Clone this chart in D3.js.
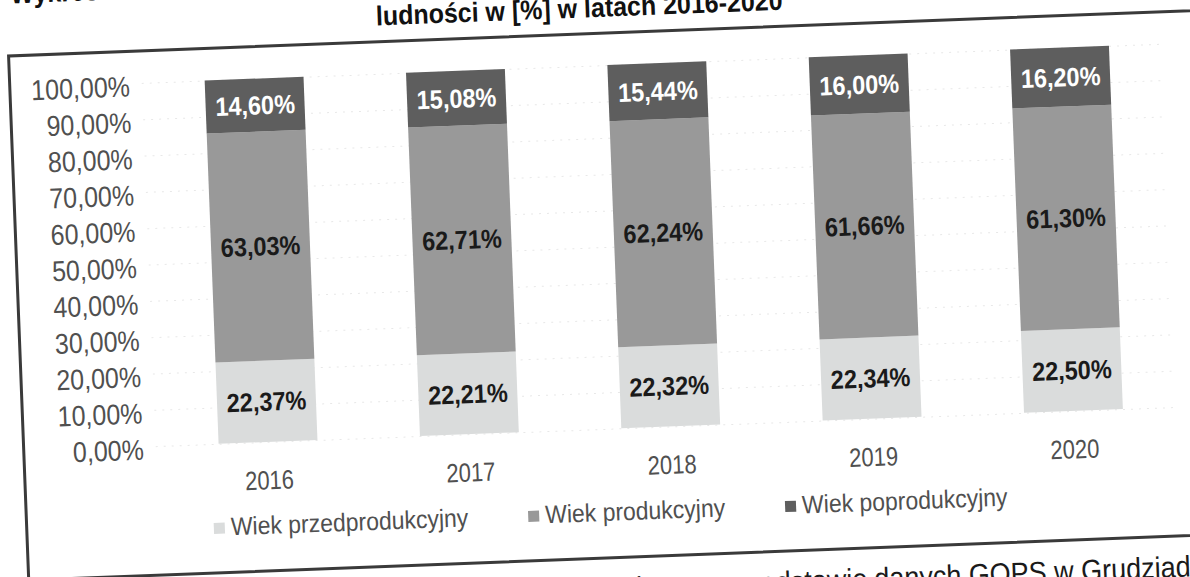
<!DOCTYPE html>
<html>
<head>
<meta charset="utf-8">
<style>
  html, body { margin: 0; background: #fff; overflow: hidden; }
  svg { display: block; }
</style>
<script src="https://cdn.jsdelivr.net/npm/d3@7"></script>
</head>
<body>
<svg id="chart" width="1190" height="577"></svg>
<script>
// data
const years = ['2016', '2017', '2018', '2019', '2020'];
const przedprodukcyjny = [22.37, 22.21, 22.32, 22.34, 22.50];
const produkcyjny = [63.03, 62.71, 62.24, 61.66, 61.30];
const poprodukcyjny = [14.60, 15.08, 15.44, 16.00, 16.20];
const seriesKeys = ['przed', 'prod', 'poprod'];
const seriesNames = ['Wiek przedprodukcyjny', 'Wiek produkcyjny', 'Wiek poprodukcyjny'];
const yTicks = [0, 10, 20, 30, 40, 50, 60, 70, 80, 90, 100];
const titleLines = ['Wykres 5. Struktura ekonomicznych grup wieku', 'ludności w [%] w latach 2016-2020'];
const sourceText = ['Źródło: opracowanie własne na podstawie', 'danych GOPS w Grudziądzu'];

const colors = ['#dadcdc', '#999999', '#5e5e5e'];
const labelColors = ['#1a1a1a', '#1a1a1a', '#ffffff'];
const FONT = '"Liberation Sans", Arial, sans-serif';

const rows = years.map((yr, i) => ({
  year: yr,
  przed: przedprodukcyjny[i],
  prod: produkcyjny[i],
  poprod: poprodukcyjny[i]
}));

const pl = d3.formatLocale({decimal: ',', thousands: ' ', grouping: [3], currency: ['', ' zł']});
const pct = v => pl.format('.2f')(v) + '%';

const svg = d3.select('#chart');

// the page was scanned slightly tilted
const page = svg.append('g').attr('transform', 'rotate(-2.2, 600, 290)');

const x = d3.scaleBand()
  .domain(years)
  .range([162.6, 1168.3])
  .paddingInner(0.509)
  .paddingOuter(0.25);

const y = d3.scaleLinear()
  .domain([0, 100])
  .range([429, 65.5]);

// frame
page.append('rect')
  .attr('x', 18)
  .attr('y', 33.5)
  .attr('width', 1300)
  .attr('height', 524.5)
  .attr('fill', 'none')
  .attr('stroke', '#3a3a3a')
  .attr('stroke-width', 3);

// title (top is cut off by the scan)
page.append('text')
  .attr('transform', 'translate(22,-19) scale(1,1.1)')
  .style('font', `bold 25px ${FONT}`)
  .attr('fill', '#111')
  .text(titleLines[0]);

page.append('text')
  .attr('transform', 'translate(590,17) scale(1,1.1)')
  .attr('text-anchor', 'middle')
  .style('font', `bold 25px ${FONT}`)
  .attr('fill', '#111')
  .text(titleLines[1]);

// faint gridlines
page.append('g')
  .attr('transform', 'translate(150,0)')
  .call(d3.axisLeft(y).tickValues(yTicks).tickSize(-1018).tickFormat(''))
  .call(g => g.select('.domain').remove())
  .selectAll('line')
    .attr('stroke', '#e8e8e8')
    .attr('stroke-dasharray', '2,6');

// y axis labels
page.append('g')
  .attr('transform', 'translate(150,0)')
  .call(d3.axisLeft(y).tickValues(yTicks).tickSize(0).tickPadding(12).tickFormat(pct))
  .call(g => g.select('.domain').remove())
  .selectAll('text')
    .attr('dy', null)
    .attr('transform', 'translate(0,12.5) scale(1,1.15)')
    .attr('fill', '#505050')
    .style('font', `25px ${FONT}`);

// stacked bars
const stacked = d3.stack().keys(seriesKeys)(rows);

const layer = page.append('g')
  .selectAll('g')
  .data(stacked)
  .enter()
  .append('g')
    .attr('fill', (d, i) => colors[i]);

layer.selectAll('rect')
  .data(d => d)
  .enter()
  .append('rect')
    .attr('x', d => x(d.data.year))
    .attr('y', d => y(d[1]))
    .attr('width', x.bandwidth())
    .attr('height', d => y(d[0]) - y(d[1]));

// value labels
stacked.forEach((s, i) => {
  page.append('g')
    .selectAll('text')
    .data(s)
    .enter()
    .append('text')
      .attr('text-anchor', 'middle')
      .attr('transform', d => `translate(${x(d.data.year) + x.bandwidth() / 2},${(y(d[0]) + y(d[1])) / 2 + 9.4}) scale(1,1.12)`)
      .style('font', `bold 23.5px ${FONT}`)
      .attr('fill', labelColors[i])
      .text(d => pct(d.data[s.key]));
});

// x axis labels
page.append('g')
  .attr('transform', `translate(0,${y(0)})`)
  .call(d3.axisBottom(x).tickSize(0))
  .call(g => g.select('.domain').remove())
  .selectAll('text')
    .attr('y', 0)
    .attr('dy', null)
    .attr('transform', 'translate(0,47.5) scale(1,1.2)')
    .attr('fill', '#505050')
    .style('font', `22px ${FONT}`);

// legend
const legend = page.append('g').attr('transform', 'translate(205,512)');
let lx = 0;
seriesNames.forEach((name, i) => {
  const item = legend.append('g').attr('transform', `translate(${lx},0)`);
  item.append('rect')
    .attr('x', 0)
    .attr('y', -4)
    .attr('width', 11)
    .attr('height', 11)
    .attr('fill', colors[i]);
  const t = item.append('text')
    .attr('transform', 'translate(17,9) scale(1,1.1)')
    .style('font', `23px ${FONT}`)
    .attr('fill', '#505050')
    .text(name);
  lx += 17 + t.node().getComputedTextLength() + 60;
});

// source note (mostly cut off by the scan)
page.append('text')
  .attr('transform', 'translate(856,599) scale(1,1.1)')
  .attr('text-anchor', 'end')
  .style('font', `27px ${FONT}`)
  .attr('fill', '#1a1a1a')
  .text(sourceText[0]);

page.append('text')
  .attr('transform', 'translate(863,599) scale(1,1.1)')
  .style('font', `27px ${FONT}`)
  .attr('fill', '#1a1a1a')
  .text(sourceText[1]);
</script>
</body>
</html>
